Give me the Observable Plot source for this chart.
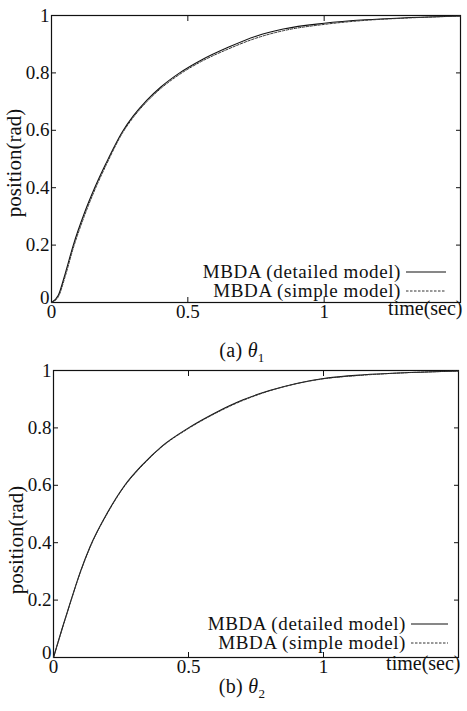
<!DOCTYPE html>
<html><head><meta charset="utf-8">
<script src="https://cdn.jsdelivr.net/npm/d3@7"></script>
<script src="https://cdn.jsdelivr.net/npm/@observablehq/plot@0.6"></script>
<style>
html,body{margin:0;padding:0;background:#fff;}
#wrap{position:relative;width:467px;height:711px;font-family:"Liberation Serif","DejaVu Serif",serif;color:#111;}
.pl{position:absolute;left:0;}
.cap{position:absolute;left:0;width:484px;text-align:center;font-size:20px;line-height:22px;letter-spacing:0.3px;}
.cap i{font-style:italic;}
</style></head><body><div id="wrap"></div>
<script>
// ---- data ----
const seriesNames = ["MBDA (detailed model)", "MBDA (simple model)"];
const xTickValues = [0, 0.5, 1];
const yTickValues = [0.2, 0.4, 0.6, 0.8, 1];
const yZeroTick = [0];
const xInnerTicks = [0.5, 1];
const yInnerTicks = [0.2, 0.4, 0.6, 0.8];
const xLabel = "time(sec)";
const yLabel = "position(rad)";

// (a) theta1
const timeA = [0,0.025,0.05,0.08,0.12,0.16,0.2,0.26,0.3,0.35,0.4,0.47,0.55,0.65,0.75,0.85,1.0,1.15,1.3,1.5];
const detailedA = [0,0.025,0.1,0.2,0.31,0.403,0.485,0.595,0.65,0.705,0.75,0.8,0.845,0.89,0.928,0.953,0.973,0.985,0.992,0.998];
const simpleA   = [0,0.02,0.09,0.19,0.3,0.395,0.478,0.59,0.645,0.7,0.745,0.795,0.84,0.884,0.921,0.947,0.969,0.983,0.991,0.998];

// (b) theta2
const timeB = [0,0.03,0.06,0.1,0.135,0.2,0.264,0.33,0.4,0.5,0.6,0.7,0.8,0.9,1.0,1.15,1.3,1.5];
const detailedB = [0,0.095,0.185,0.3,0.385,0.505,0.6,0.672,0.735,0.8,0.853,0.897,0.93,0.955,0.972,0.985,0.992,0.998];
const simpleB   = [0,0.093,0.183,0.298,0.383,0.503,0.598,0.67,0.733,0.798,0.851,0.895,0.929,0.954,0.971,0.984,0.992,0.998];

const FONT = '"Liberation Serif","DejaVu Serif",serif';

function panel(t, det, simp, cfg) {
  const rows = [];
  t.forEach((tt, i) => {
    rows.push({t: tt, v: det[i], s: seriesNames[0]});
    rows.push({t: tt, v: simp[i], s: seriesNames[1]});
  });
  const W = 467, H = 336;
  const chart = Plot.plot({
    width: W, height: H,
    marginLeft: cfg.ml, marginRight: cfg.mr, marginTop: 15, marginBottom: 34,
    style: {fontFamily: FONT, fontSize: "19px", background: "transparent", color: "#111", overflow: "visible"},
    x: {domain: [0, 1.5]},
    y: {domain: [0, 1]},
    marks: [
      Plot.frame({stroke: "#111", strokeWidth: 1.2}),
      Plot.axisX({anchor: "bottom", ticks: xInnerTicks, tickSize: -5, tickFormat: () => "", label: null}),
      Plot.axisX({anchor: "top", ticks: xInnerTicks, tickSize: -5, tickFormat: () => "", label: null}),
      Plot.axisY({anchor: "left", ticks: yInnerTicks, tickSize: -5, tickFormat: () => "", label: null}),
      Plot.axisY({anchor: "right", ticks: yInnerTicks, tickSize: -5, tickFormat: () => "", label: null}),
      Plot.axisX({anchor: "bottom", ticks: xTickValues, tickSize: 0, tickPadding: 2, tickFormat: d => String(d), label: null}),
      Plot.axisY({anchor: "left", ticks: yTickValues, tickSize: 0, tickPadding: 2, tickFormat: d => String(d), label: null}),
      Plot.axisY({anchor: "left", ticks: yZeroTick, tickSize: 0, tickPadding: 2, dy: -5, tickFormat: d => String(d), label: null}),
      Plot.line(rows.filter(d => d.s === seriesNames[0]), {x: "t", y: "v", stroke: "#111", strokeWidth: 1.1, curve: "monotone-x"}),
      Plot.line(rows.filter(d => d.s === seriesNames[1]), {x: "t", y: "v", stroke: "#333", strokeWidth: 1, strokeDasharray: "2.5,1.5", curve: "monotone-x"}),
      Plot.text([xLabel], {frameAnchor: "bottom-right", dy: 12, dx: 2, textAnchor: "end", fontSize: 20}),
      Plot.text([yLabel], {frameAnchor: "left", dx: -37, dy: cfg.ylDy, rotate: -90, textAnchor: "middle", fontSize: 21, letterSpacing: "0.8px"})
    ]
  });
  // legend (layout only)
  const svg = d3.select(chart);
  const lg = svg.append("g").attr("font-family", FONT).attr("font-size", 19).attr("letter-spacing", "0.6px").attr("fill", "#111");
  seriesNames.forEach((name, i) => {
    const y = cfg.legY[i];
    lg.append("text").attr("x", cfg.legTextX).attr("y", y).attr("dy", "0.35em").attr("text-anchor", "end").text(name);
    lg.append("line").attr("x1", cfg.legLine[0]).attr("x2", cfg.legLine[1]).attr("y1", y + 1).attr("y2", y + 1)
      .attr("stroke", i === 0 ? "#111" : "#333").attr("stroke-width", i === 0 ? 1.1 : 1)
      .attr("stroke-dasharray", i === 0 ? null : "2.5,1.5");
  });
  return chart;
}

const wrap = document.getElementById("wrap");
const a = panel(timeA, detailedA, simpleA, {ml: 51, mr: 7, ylDy: 4, legY: [271, 290], legTextX: 401, legLine: [406, 446]});
a.classList.add("pl"); a.style.top = "0px";
wrap.appendChild(a);
const capA = document.createElement("div");
capA.className = "cap"; capA.style.top = "339px";
capA.innerHTML = "(a) <i>θ</i><sub style='font-size:13px'>1</sub>";
wrap.appendChild(capA);

const b = panel(timeB, detailedB, simpleB, {ml: 53, mr: 9, ylDy: 26, legY: [268, 287], legTextX: 406, legLine: [411, 448]});
b.classList.add("pl"); b.style.top = "355px";
wrap.appendChild(b);
const capB = document.createElement("div");
capB.className = "cap"; capB.style.top = "675px";
capB.innerHTML = "(b) <i>θ</i><sub style='font-size:13px'>2</sub>";
wrap.appendChild(capB);
</script></body></html>
